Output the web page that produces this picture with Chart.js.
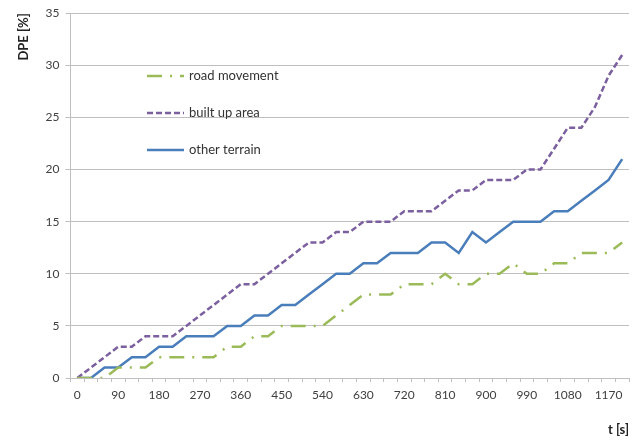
<!DOCTYPE html>
<html>
<head>
<meta charset="utf-8">
<script src="https://cdn.jsdelivr.net/npm/chart.js@4.4.0/dist/chart.umd.min.js"></script>
<style>
  html, body { margin: 0; padding: 0; background: #fff; }
  #wrap { width: 635px; height: 443px; }
</style>
</head>
<body>
<div id="wrap"><canvas id="chart"></canvas></div>
<script>
// time in seconds, one sample every 30 s
const times = [0, 30, 60, 90, 120, 150, 180, 210, 240, 270, 300, 330, 360, 390, 420, 450, 480, 510, 540, 570,
  600, 630, 660, 690, 720, 750, 780, 810, 840, 870, 900, 930, 960, 990, 1020, 1050, 1080, 1110, 1140, 1170, 1200];

const roadMovement = [0, 0, 0, 1, 1, 1, 2, 2, 2, 2, 2, 3, 3, 4, 4, 5, 5, 5, 5, 6,
  7, 8, 8, 8, 9, 9, 9, 10, 9, 9, 10, 10, 11, 10, 10, 11, 11, 12, 12, 12, 13];

const builtUpArea = [0, 1, 2, 3, 3, 4, 4, 4, 5, 6, 7, 8, 9, 9, 10, 11, 12, 13, 13, 14,
  14, 15, 15, 15, 16, 16, 16, 17, 18, 18, 19, 19, 19, 20, 20, 22, 24, 24, 26, 29, 31];

const otherTerrain = [0, 0, 1, 1, 2, 2, 3, 3, 4, 4, 4, 5, 5, 6, 6, 7, 7, 8, 9, 10,
  10, 11, 11, 12, 12, 12, 13, 13, 12, 14, 13, 14, 15, 15, 15, 16, 16, 17, 18, 19, 21];

const yTicks = [0, 5, 10, 15, 20, 25, 30, 35];

const FONT = "Lato, 'Open Sans', sans-serif";

// legend drawn inside the plot, stacked like the original
const innerLegend = {
  id: 'innerLegend',
  afterDraw(chart) {
    const ctx = chart.ctx;
    const rows = [76, 113, 150];
    chart.data.datasets.forEach((ds, i) => {
      const y = rows[i];
      ctx.save();
      ctx.strokeStyle = ds.borderColor;
      ctx.lineWidth = ds.borderWidth;
      ctx.setLineDash(ds.borderDash || []);
      ctx.beginPath();
      ctx.moveTo(147, y);
      ctx.lineTo(184, y);
      ctx.stroke();
      ctx.setLineDash([]);
      ctx.fillStyle = '#333';
      ctx.font = '13px ' + FONT;
      ctx.textBaseline = 'middle';
      ctx.fillText(ds.label, 189, y);
      ctx.restore();
    });
  }
};

new Chart(document.getElementById('chart'), {
  type: 'line',
  data: {
    labels: times,
    datasets: [
      {
        label: 'road movement',
        data: roadMovement,
        borderColor: '#9bbb59',
        borderWidth: 2.5,
        borderDash: [15, 8, 2, 8],
        pointRadius: 0,
        tension: 0,
        fill: false
      },
      {
        label: 'built up area',
        data: builtUpArea,
        borderColor: '#7b5f9e',
        borderWidth: 2.5,
        borderDash: [6, 3],
        pointRadius: 0,
        tension: 0,
        fill: false
      },
      {
        label: 'other terrain',
        data: otherTerrain,
        borderColor: '#4a7ebb',
        borderWidth: 2.5,
        pointRadius: 0,
        tension: 0,
        fill: false
      }
    ]
  },
  options: {
    responsive: true,
    maintainAspectRatio: false,
    animation: false,
    layout: { padding: { left: 16, right: 6, top: 10, bottom: 5 } },
    plugins: {
      legend: { display: false },
      tooltip: { enabled: false }
    },
    scales: {
      x: {
        type: 'category',
        offset: true,
        grid: {
          offset: true,
          drawOnChartArea: false,
          drawTicks: true,
          tickLength: 4,
          color: '#bfbfbf'
        },
        border: { color: '#bfbfbf' },
        ticks: {
          autoSkip: false,
          maxRotation: 0,
          color: '#404040',
          font: { family: FONT, size: 12 },
          padding: 6,
          callback: (v, i) => (i % 3 === 0 && i < times.length - 1 ? times[i] : '')
        },
        title: {
          display: true,
          text: 't [s]',
          align: 'end',
          color: '#222',
          font: { family: FONT, size: 13, weight: 'bold' },
          padding: { top: 14, bottom: 0 }
        }
      },
      y: {
        min: 0,
        max: 35,
        afterBuildTicks: (axis) => { axis.ticks = yTicks.map(v => ({ value: v })); },
        grid: {
          color: '#bfbfbf',
          lineWidth: 1,
          tickLength: 5
        },
        border: { color: '#bfbfbf' },
        ticks: {
          color: '#404040',
          font: { family: FONT, size: 12 },
          padding: 6
        },
        title: {
          display: true,
          text: 'DPE [%]',
          align: 'end',
          color: '#222',
          font: { family: FONT, size: 13, weight: 'bold' },
          padding: { top: 0, bottom: 8 }
        }
      }
    }
  },
  plugins: [innerLegend]
});
</script>
</body>
</html>
